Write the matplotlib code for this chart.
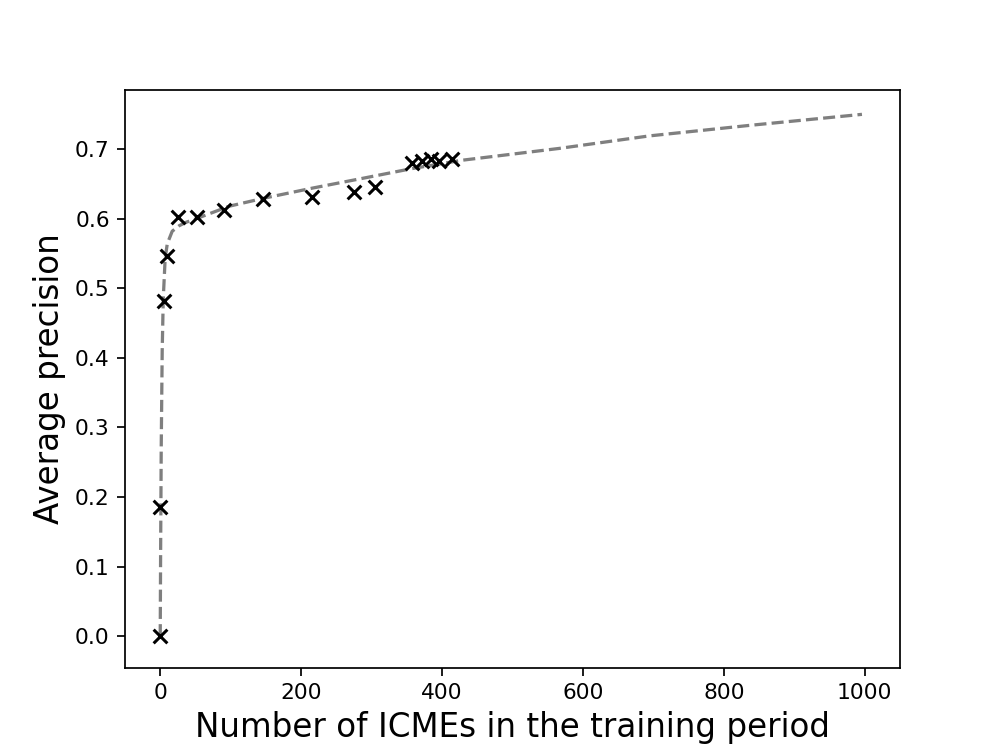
import matplotlib
matplotlib.use("Agg")
import matplotlib.pyplot as plt

# Observed points (number of ICMEs, average precision)
n_icmes = [0, 0, 6, 10, 25, 52, 91, 146, 216, 275, 305, 357, 372, 384, 396, 414]
avg_prec = [0.0, 0.185, 0.482, 0.547, 0.602, 0.602, 0.613, 0.629, 0.631, 0.638,
            0.645, 0.680, 0.683, 0.686, 0.683, 0.686]

# Fitted trend curve
curve_x = [0, 0.5, 1.4, 2.8, 4.3, 7, 10, 17, 27, 37, 51, 98, 145, 216, 287, 357,
           428, 566, 694, 835, 996]
curve_y = [0.0, 0.11, 0.27, 0.41, 0.485, 0.543, 0.564, 0.582, 0.590, 0.595, 0.600,
           0.618, 0.629, 0.644, 0.658, 0.672, 0.684, 0.701, 0.719, 0.734, 0.750]

fig, ax = plt.subplots(figsize=(6.4, 4.8), dpi=156.25)
ax.plot(curve_x, curve_y, linestyle="--", color="k", alpha=0.5, linewidth=1.5)
ax.scatter(n_icmes, avg_prec, marker="x", color="k", s=40, zorder=3, linewidths=1.4)
ax.set_xlabel("Number of ICMEs in the training period", fontsize=15)
ax.set_ylabel("Average precision", fontsize=15)
ax.set_xticks([0, 200, 400, 600, 800, 1000])
ax.set_yticks([0.0, 0.1, 0.2, 0.3, 0.4, 0.5, 0.6, 0.7])
ax.set_xlim(-50, 1050)
ax.set_ylim(-0.045, 0.785)
fig.savefig("out.png", dpi=156.25)
